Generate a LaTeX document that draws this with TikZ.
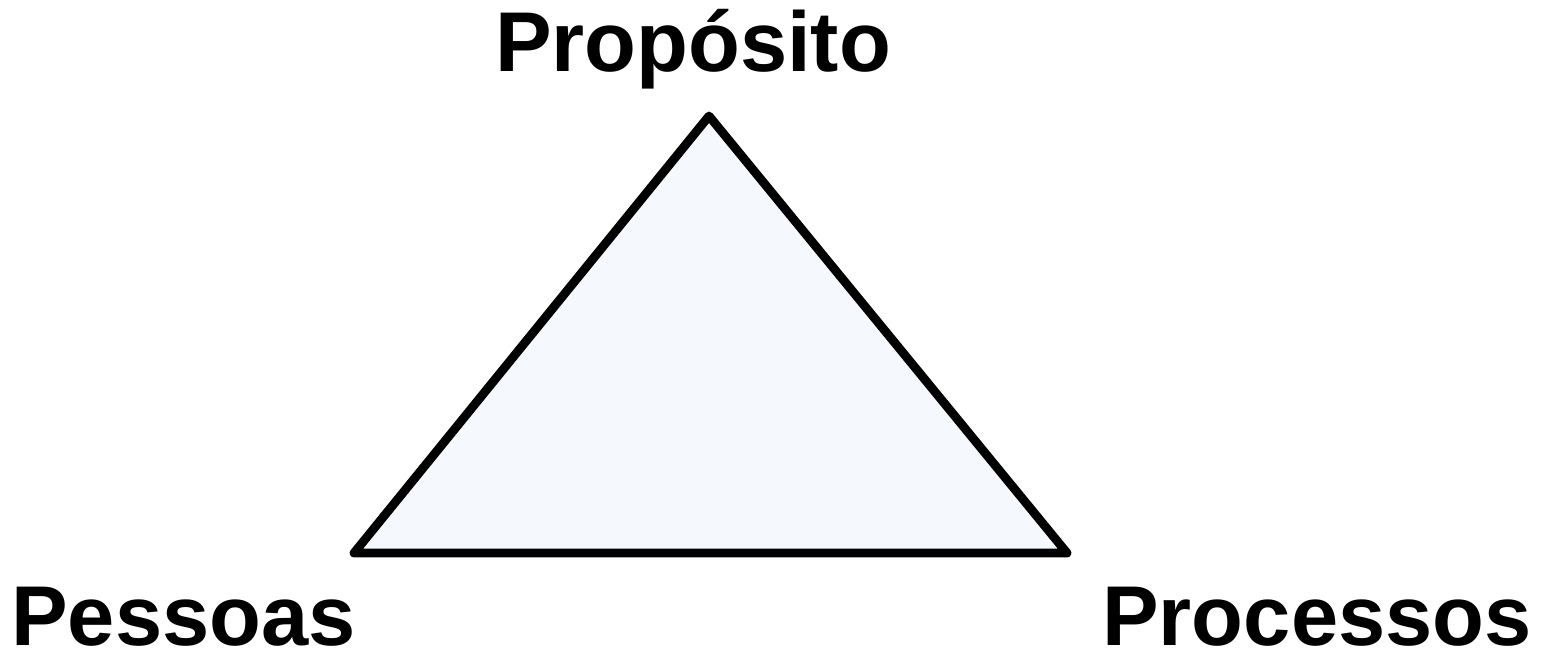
\documentclass[tikz,border=0pt]{standalone}
\usepackage{fontspec}
\setmainfont{Liberation Sans}
\usetikzlibrary{positioning}
\definecolor{trifill}{HTML}{F5F9FE}

\begin{document}
\begin{tikzpicture}[x=0.02cm, y=-0.02cm,
    every node/.style={font=\fontsize{48.3}{58}\selectfont\bfseries, inner sep=0pt},
    edge/.style={line width=5pt, line join=round, fill=trifill}]

% --- canvas ---
\useasboundingbox (0,0) rectangle (1545,652);

% --- corners of the triangle ---
\coordinate (top) at (709,116);
\coordinate (left) at (354,553);
\coordinate (right) at (1067,553);

\draw[edge] (top) -- (right) -- (left) -- cycle;

% --- labels ---
\node[anchor=base] (proposito) at (693,72) {Propósito};
\node[anchor=base west] (pessoas) at (11,645) {Pessoas};
\node[anchor=base west] (processos) at (1102,645) {Processos};

\end{tikzpicture}
\end{document}
